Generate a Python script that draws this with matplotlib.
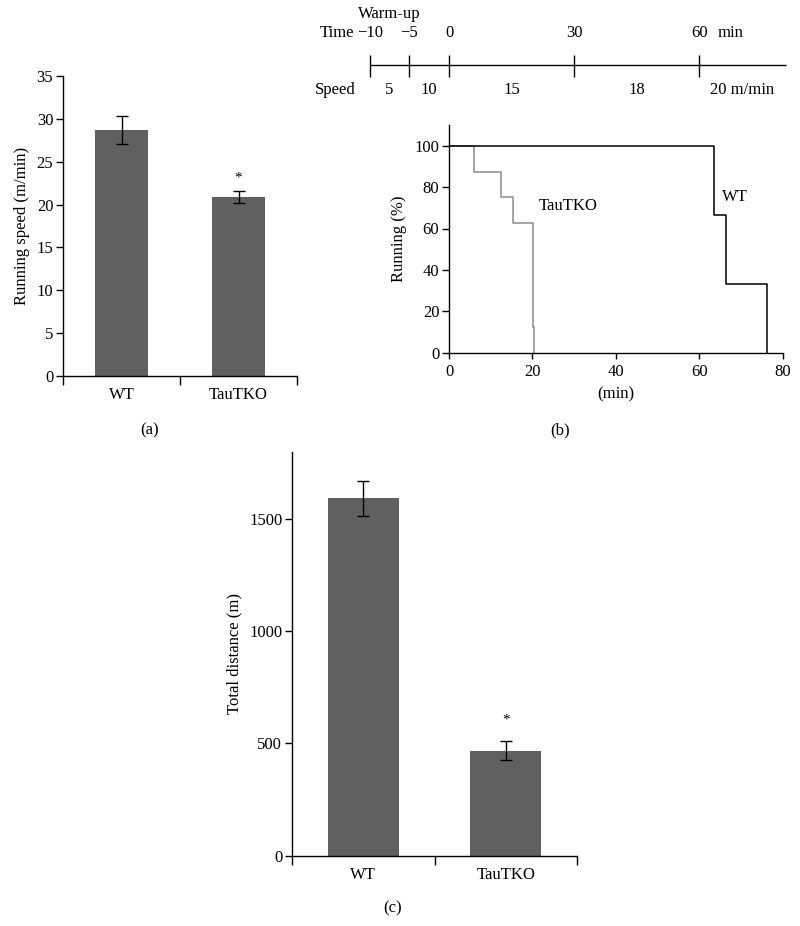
import matplotlib
matplotlib.use("Agg")
import matplotlib.pyplot as plt
import numpy as np

plt.rcParams['font.family'] = ['Liberation Serif', 'DejaVu Serif']
plt.rcParams['font.size'] = 12
plt.rcParams['axes.linewidth'] = 1.0

# ---- data ----
groups = ["WT", "TauTKO"]
speed_mean = [28.7, 20.9]
speed_err = [1.6, 0.7]
distance_mean = [1593, 467]
distance_err = [78, 42]

# Kaplan-Meier style curves (time in min, % still running)
wt_time = [0, 63.5, 66.3, 76.3]
wt_running = [100, 66.7, 33.3, 0]
tko_time = [0, 6.1, 12.5, 15.3, 20.1, 20.3]
tko_running = [100, 87.5, 75, 62.5, 12.5, 0]

# treadmill protocol
protocol_times = [-10, -5, 0, 30, 60]
protocol_labels = ["\u221210", "\u22125", "0", "30", "60"]
protocol_speeds = ["5", "10", "15", "18", "20 m/min"]
protocol_end = 80.7

BAR_COLOR = "#606060"
WARMUP_SCALE = 1.9   # warm-up part of the schematic is drawn stretched

fig = plt.figure(figsize=(8, 9.26), dpi=100)


def bar_panel(ax, values, errs, width, ymax, yticks, ylabel, star_y):
    x = np.array([0.5, 1.5])
    ax.bar(x, values, width=width, color=BAR_COLOR, zorder=2)
    ax.errorbar(x, values, yerr=errs, fmt='none', ecolor='black',
                elinewidth=1, capsize=4.5, capthick=1, zorder=3)
    ax.text(x[1], star_y, "*", ha='center', va='center', fontsize=11)
    ax.set_xlim(0, 2)
    ax.set_ylim(0, ymax)
    ax.set_yticks(yticks)
    ax.set_xticks([0, 1, 2])
    ax.set_xticklabels([])
    ax.set_xticks(x, minor=True)
    ax.set_xticklabels(groups, minor=True)
    ax.tick_params(axis='x', which='major', length=6.5, direction='out', width=1)
    ax.tick_params(axis='x', which='minor', length=0, pad=8)
    ax.tick_params(axis='y', length=5, width=1, pad=2)
    ax.spines['top'].set_visible(False)
    ax.spines['right'].set_visible(False)
    ax.set_ylabel(ylabel, labelpad=5)


# ---- (a) running speed ----
ax_a = fig.add_axes([63 / 800, 1 - 376 / 926, 234 / 800, 300 / 926])
bar_panel(ax_a, speed_mean, speed_err, 0.46, 35, range(0, 36, 5),
          "Running speed (m/min)", 23.1)
fig.text(150 / 800, 1 - 430 / 926, "(a)", ha='center', va='center')

# ---- (b) running curves ----
ax_b = fig.add_axes([449 / 800, 1 - 352.7 / 926, 333.7 / 800, 227.7 / 926])
ax_b.step(tko_time, tko_running, where='post', color='#8a8a8a', lw=1.1)
ax_b.step(wt_time, wt_running, where='post', color='black', lw=1.1)
ax_b.set_xlim(0, 80)
ax_b.set_ylim(0, 110)
ax_b.set_xticks(range(0, 81, 20))
ax_b.set_yticks(range(0, 101, 20))
ax_b.tick_params(axis='x', length=4, width=1, pad=4)
ax_b.tick_params(axis='y', length=5, width=1, pad=2)
ax_b.spines['top'].set_visible(False)
ax_b.spines['right'].set_visible(False)
ax_b.set_xlabel("(min)", labelpad=5)
ax_b.set_ylabel("Running (%)", labelpad=5)
ax_b.text(21.5, 71, "TauTKO", ha='left', va='center')
ax_b.text(65.5, 75, "WT", ha='left', va='center')
fig.text(560 / 800, 1 - 430 / 926, "(b)", ha='center', va='center')

# ---- protocol schematic ----
ax_t = fig.add_axes([290 / 800, 1 - 110 / 926, 510 / 800, 110 / 926])
ax_t.set_xlim(-(449 - 290) / 4.17, (800 - 449) / 4.17)
ax_t.set_ylim(110, 0)
ax_t.axis('off')
pos = [t * WARMUP_SCALE if t < 0 else t for t in protocol_times]
ax_t.hlines(65, pos[0], protocol_end, color='black', lw=1)
ax_t.vlines(pos, 55, 77, color='black', lw=1)
for p, lab in zip(pos, protocol_labels):
    ax_t.text(p, 33, lab, ha='center', va='center')
ax_t.text(pos[-1] + 4.3, 33, "min", ha='left', va='center')
ax_t.text(pos[0] - 3.8, 33, "Time", ha='right', va='center')
ax_t.text((pos[0] + pos[1]) / 2, 14, "Warm-up", ha='center', va='center')
bounds = pos + [protocol_end]
for i, lab in enumerate(protocol_speeds):
    ax_t.text((bounds[i] + bounds[i + 1]) / 2, 90, lab, ha='center', va='center')
ax_t.text(pos[0] - 3.5, 90, "Speed", ha='right', va='center')

# ---- (c) total distance ----
ax_c = fig.add_axes([292 / 800, 1 - 855.7 / 926, 285 / 800, 404 / 926])
bar_panel(ax_c, distance_mean, distance_err, 0.5, 1800, [0, 500, 1000, 1500],
          "Total distance (m)", 604)
fig.text(393 / 800, 1 - 908 / 926, "(c)", ha='center', va='center')

fig.savefig("out.png", dpi=100)
